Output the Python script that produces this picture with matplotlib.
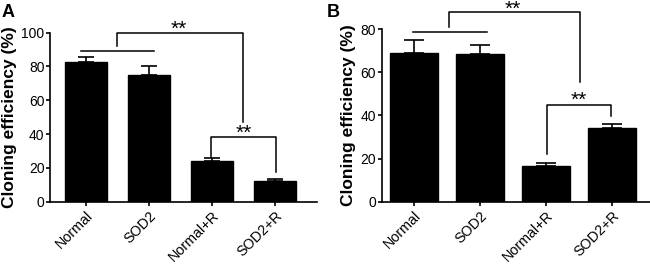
import matplotlib.pyplot as plt
import numpy as np

plt.rcParams['font.family'] = ['Liberation Sans', 'DejaVu Sans']

groups = ['Normal', 'SOD2', 'Normal+R', 'SOD2+R']
eff_a = [82.8, 75.1, 24.3, 12.1]
err_a = [2.6, 5.0, 1.7, 1.1]
eff_b = [69.1, 68.7, 16.7, 34.2]
err_b = [5.9, 4.2, 1.4, 1.8]


def panel(ax, vals, errs, ymax, width, cap, xlim):
    x = np.arange(len(groups))
    ax.bar(x, vals, width=width, color='black', edgecolor='black', zorder=2)
    ax.errorbar(x, vals, yerr=[np.zeros(len(errs)), errs], fmt='none',
                ecolor='black', elinewidth=1.2, capsize=cap, capthick=1.2, zorder=1)
    ax.set_xlim(*xlim)
    ax.set_ylim(0, ymax)
    ax.set_yticks(np.arange(0, ymax + 1, 20))
    ax.set_xticks(x)
    ax.set_xticklabels(groups, rotation=45, ha='right', rotation_mode='anchor')
    for s in ['top', 'right']:
        ax.spines[s].set_visible(False)
    for s in ['left', 'bottom']:
        ax.spines[s].set_linewidth(1.2)
    ax.tick_params(width=1.2, length=3)
    ax.tick_params(axis='y', pad=1, labelsize=10)
    ax.tick_params(axis='x', pad=2, labelsize=10.3)
    ax.set_ylabel('Cloning efficiency (%)', fontsize=12.5, fontweight='bold', labelpad=3)


def line(ax, xs, ys):
    ax.plot(xs, ys, color='black', lw=1.1, clip_on=False, zorder=3)


def stars(ax, x, y):
    ax.text(x, y, '**', ha='center', va='center', fontsize=15)


fig = plt.figure(figsize=(6.5, 2.65), dpi=100)

# panel A
axA = fig.add_axes([0.0769, 0.239, 0.4108, 0.6377])
panel(axA, eff_a, err_a, 100, 0.67, 6, (-0.57, 3.67))
line(axA, [-0.08, 1.08], [89, 89])
line(axA, [0.49, 0.49, 2.49, 2.49], [92, 100, 100, 47])
stars(axA, 1.48, 102)
line(axA, [1.99, 1.99, 3.02, 3.02], [26.6, 38.5, 38.5, 17.8])
stars(axA, 2.5, 40.5)

# panel B
axB = fig.add_axes([0.587, 0.239, 0.413, 0.6505])
panel(axB, eff_b, err_b, 80, 0.73, 7, (-0.49, 3.58))
line(axB, [-0.02, 1.11], [78.6, 78.6])
line(axB, [0.53, 0.53, 2.52, 2.52], [81.2, 87.9, 87.9, 55.7])
stars(axB, 1.5, 89.3)
line(axB, [2.02, 2.02, 2.99, 2.99], [22.1, 44.9, 44.9, 39.7])
stars(axB, 2.5, 47)

fig.text(0.003, 0.985, 'A', fontsize=13, fontweight='bold', va='top', ha='left')
fig.text(0.503, 0.985, 'B', fontsize=13, fontweight='bold', va='top', ha='left')

fig.savefig('out.png', dpi=100)
